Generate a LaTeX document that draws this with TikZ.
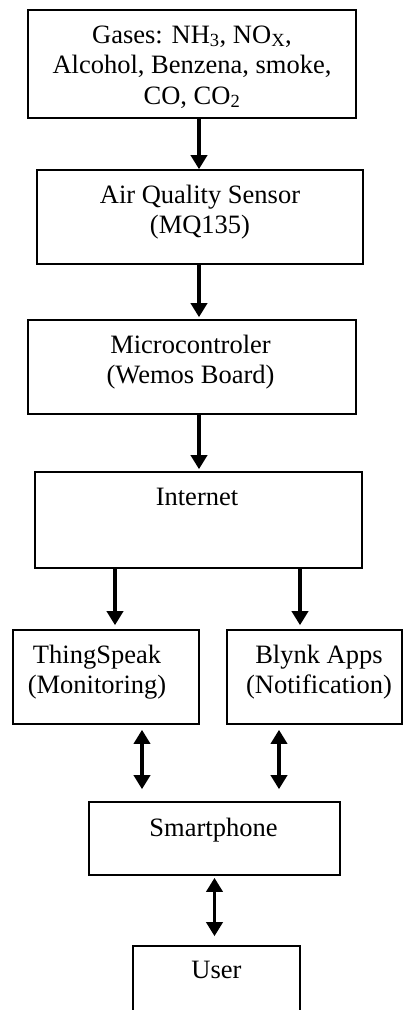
\documentclass[tikz,border=0pt]{standalone}
\usepackage{fontspec}
\setmainfont{Liberation Serif}
\usetikzlibrary{arrows.meta,calc}
\begin{document}
\begin{tikzpicture}[x=1pt,y=-1pt,
  box/.style={draw=black, line width=1.6pt, inner sep=0pt, fill=white},
  lbl/.style={anchor=base, align=center, inner sep=0pt, font=\fontsize{26.5}{30.5}\selectfont},
  arr/.style={line width=3.5pt, -{Triangle[width=16pt,length=14pt]}},
  darr/.style={line width=3.5pt, {Triangle[width=16pt,length=14pt]}-{Triangle[width=16pt,length=14pt]}}
]
\path[use as bounding box, clip] (0,0) rectangle (403,1010);
\fill[white] (0,0) rectangle (403,1010);
% boxes
\node[box, minimum width=328pt, minimum height=108pt] (b1) at (192,64) {};
\node[box, minimum width=326pt, minimum height=94pt] (b2) at (200,217) {};
\node[box, minimum width=328pt, minimum height=94pt] (b3) at (192,367) {};
\node[box, minimum width=327pt, minimum height=96pt] (b4) at (198.5,520) {};
\node[box, minimum width=186pt, minimum height=94pt] (b5) at (106,677) {};
\node[box, minimum width=175pt, minimum height=94pt] (b6) at (314.5,677) {};
\node[box, minimum width=251pt, minimum height=73pt] (b7) at (214.5,838.5) {};
\node[box, minimum width=167pt, minimum height=90pt] (b8) at (216.5,991) {};
% texts (base anchor = baseline of the last line)
\node[lbl] (t1) at (192,104) {Gases: NH\textsubscript{3}, NO\textsubscript{X},\\Alcohol, Benzena, smoke,\\CO, CO\textsubscript{2}};
\node[lbl] (t2) at (200,233.5) {Air Quality Sensor\\(MQ135)};
\node[lbl] (t3) at (190.5,383.5) {Microcontroler\\(Wemos Board)};
\node[lbl] (t4) at (197,505) {Internet};
\node[lbl] (t5) at (97,693.5) {ThingSpeak\\(Monitoring)};
\node[lbl] (t6) at (319,693.5) {Blynk Apps\\(Notification)};
\node[lbl] (t7) at (213.5,836) {Smartphone};
\node[lbl] (t8) at (216.5,978) {User};
% arrows
\draw[arr] ([xshift=7pt]b1.south) -- ([xshift=7pt]b1.south |- b2.north);
\draw[arr] ([xshift=-1pt]b2.south) -- ([xshift=-1pt,yshift=2pt]b2.south |- b3.north);
\draw[arr] ([xshift=7pt]b3.south) -- ([xshift=7pt,yshift=2pt]b3.south |- b4.north);
\draw[arr] ([xshift=9pt]b5.north |- b4.south) -- ([xshift=9pt,yshift=4pt]b5.north);
\draw[arr] ([xshift=-14.5pt]b6.north |- b4.south) -- ([xshift=-14.5pt,yshift=4pt]b6.north);
\draw[darr] ([xshift=36pt,yshift=-5pt]b5.south) -- ([xshift=36pt,yshift=12pt]b5.south |- b7.north);
\draw[darr] ([xshift=-35.5pt,yshift=-5pt]b6.south) -- ([xshift=-35.5pt,yshift=12pt]b6.south |- b7.north);
\draw[darr] ([yshift=-2pt]b7.south) -- ([yshift=9pt]b7.south |- b8.north);
\end{tikzpicture}
\end{document}
